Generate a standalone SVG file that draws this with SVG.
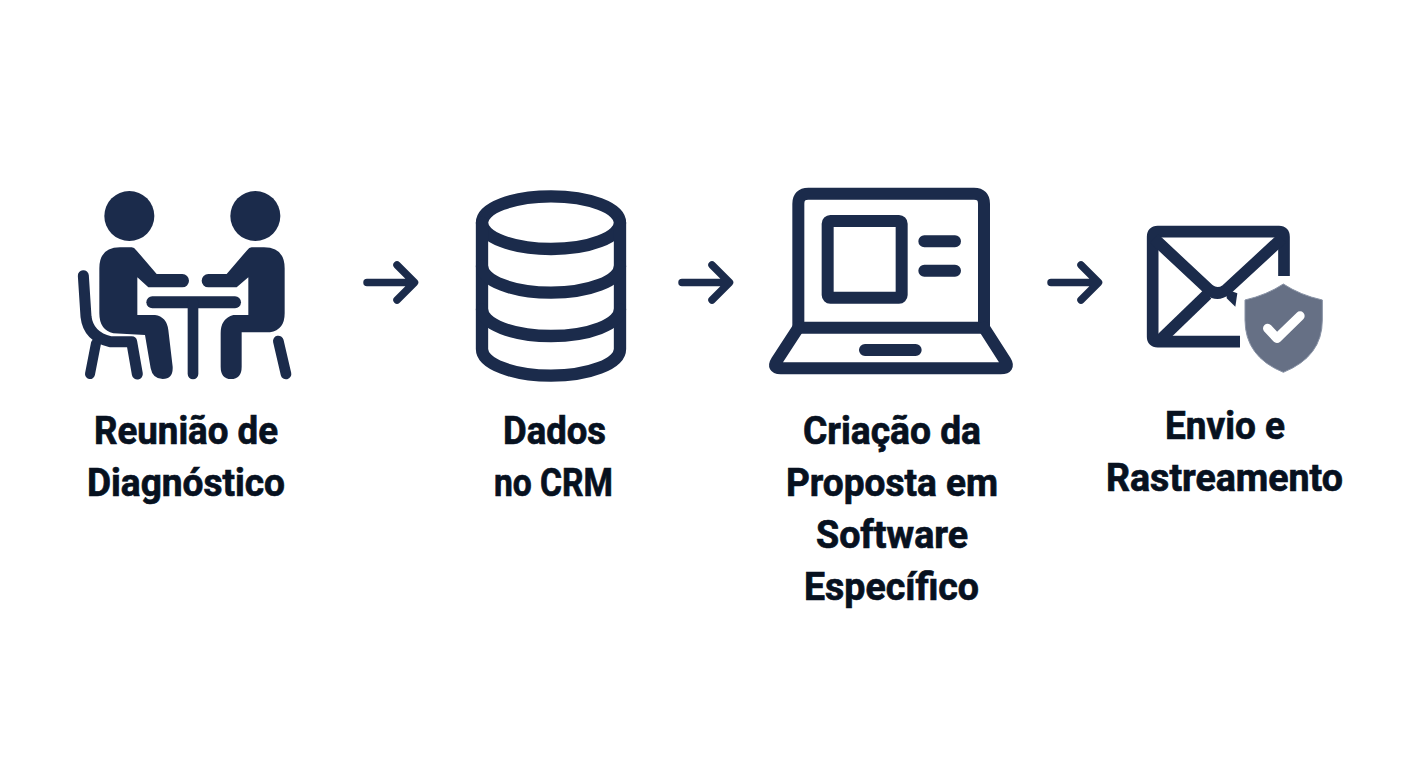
<svg xmlns="http://www.w3.org/2000/svg" width="1408" height="768" viewBox="0 0 1408 768">
<style>
.i{fill:#1b2b4b}
.s{fill:none;stroke:#1b2b4b;stroke-linecap:round;stroke-linejoin:round}
.t{font-family:"Roboto","Liberation Sans",sans-serif;font-weight:700;font-size:38px;fill:#07111f;stroke:#07111f;stroke-width:.7px;text-anchor:middle}
</style>
<rect width="1408" height="768" fill="#fff"/>
<g id="node-reuniao">
<g transform="translate(60 170) scale(.33333)">
<circle class="i" cx="208" cy="138" r="75"/>
<circle class="i" cx="586" cy="138" r="75"/>
<path class="i" d="M118,295 Q118,232 180,232 L215,232 Q222,232 230,242 L290,312 L367,312 A20,20 0 0 1 367,352 L265,352 L232,322 L232,435 L285,435 Q320,440 325,480 L338,590 Q340,627 308,627 Q278,627 272,595 L255,495 L160,490 Q118,480 118,430 Z"/>
<path class="i" d="M674,295 Q674,232 612,232 L575,232 Q568,232 560,242 L500,312 L445,312 A20,20 0 0 0 445,352 L530,352 L565,322 L565,435 L520,435 Q482,445 482,490 L482,590 Q482,627 513,627 Q545,627 545,590 L545,487 L630,487 Q674,480 674,430 Z"/>
<path class="s" stroke-width="33" d="M70,317 L78,440 Q85,500 150,515 L215,515 L232,612"/>
<path class="s" stroke-width="30" d="M108,520 L90,612"/>
<path class="s" stroke-width="32" d="M655,513 L678,612"/>
<path class="s" stroke-width="36" d="M277,397 L525,397"/>
<path class="s" stroke-width="32" d="M399,397 L399,612"/>
</g>
<text class="t" x="186" y="444" textLength="184" lengthAdjust="spacingAndGlyphs">Reunião de</text>
<text class="t" x="186" y="496" textLength="198" lengthAdjust="spacingAndGlyphs">Diagnóstico</text>
</g>
<g id="node-dados">
<g transform="translate(350 180) scale(.33333)" class="s" stroke-width="37">
<ellipse cx="603" cy="128" rx="207" ry="79"/>
<path d="M396,128 L396,507 A207,80 0 0 0 810,507 L810,128"/>
<path d="M396,258 A207,80 0 0 0 810,258"/>
<path d="M396,388 A207,80 0 0 0 810,388"/>
</g>
<text class="t" x="554.5" y="444" textLength="103" lengthAdjust="spacingAndGlyphs">Dados</text>
<text class="t" x="553.5" y="496" textLength="119" lengthAdjust="spacingAndGlyphs">no CRM</text>
</g>
<g id="node-proposta">
<g transform="translate(760 175) scale(.33333)" class="s" stroke-width="36">
<path d="M115,458 L115,86 Q115,56 145,56 L642,56 Q672,56 672,86 L672,458 Z"/>
<path d="M115,458 L50,558 Q36,580 62,580 L722,580 Q750,580 736,558 L672,458"/>
<rect x="203" y="138" width="222" height="230" rx="8"/>
<path d="M493,199 L585,199 M493,287 L585,287 M315,525 L467,525"/>
</g>
<text class="t" x="892" y="444" textLength="178" lengthAdjust="spacingAndGlyphs">Criação da</text>
<text class="t" x="892" y="496" textLength="212" lengthAdjust="spacingAndGlyphs">Proposta em</text>
<text class="t" x="892" y="548" textLength="152" lengthAdjust="spacingAndGlyphs">Software</text>
<text class="t" x="891.5" y="600" textLength="175" lengthAdjust="spacingAndGlyphs">Específico</text>
</g>
<g id="node-envio">
<g transform="translate(1130 210) scale(.33333)">
<g class="s" stroke-width="35">
<path stroke-linecap="butt" d="M462,198 L462,80 Q462,65 447,65 L83,65 Q68,65 68,80 L68,380 Q68,395 83,395 L330,395"/>
<path stroke-linecap="butt" d="M72,85 L238,240 Q262,258 288,240 L456,85"/>
<path stroke-linecap="butt" d="M82,398 L232,253"/>
</g>
<path d="M290,250 L305,244 L322,250 L316,290 L290,265 Z" class="i"/>
<path d="M460,222 Q510,255 577,270 L577,330 Q577,440 460,487 Q345,440 345,330 L345,270 Q410,255 460,222 Z" fill="#fff" stroke="#fff" stroke-width="30" stroke-linejoin="round"/>
<path d="M460,222 Q510,255 577,270 L577,330 Q577,440 460,487 Q345,440 345,330 L345,270 Q410,255 460,222 Z" fill="#667085" stroke="#8993a6" stroke-width="3"/>
<path d="M413,355 L441,385 L510,318" fill="none" stroke="#fff" stroke-width="28" stroke-linecap="round" stroke-linejoin="round"/>
</g>
<text class="t" x="1225" y="439" textLength="120" lengthAdjust="spacingAndGlyphs">Envio e</text>
<text class="t" x="1224.5" y="491" textLength="237" lengthAdjust="spacingAndGlyphs">Rastreamento</text>
</g>
<g id="connectors" class="s" stroke-width="7.5">
<path d="M367,282.5 L414,282.5 M397,265 L414.5,282.5 L397,300"/>
<path d="M682,282.5 L729,282.5 M712,265 L729.5,282.5 L712,300"/>
<path d="M1051,282.5 L1098,282.5 M1081,265 L1098.5,282.5 L1081,300"/>
</g>
</svg>
